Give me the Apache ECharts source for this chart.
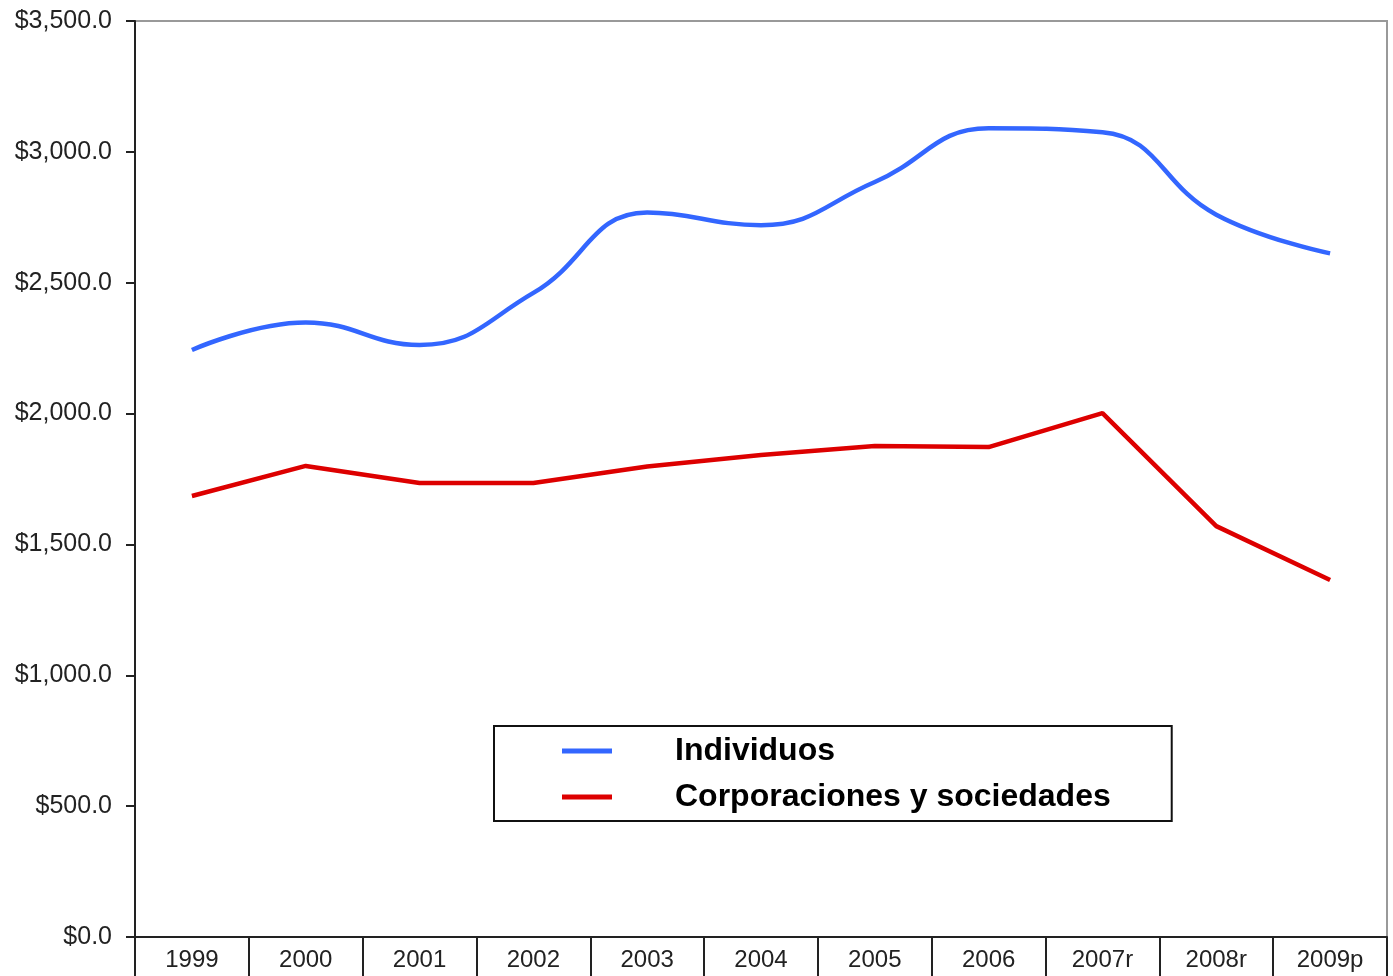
<!DOCTYPE html>
<html>
<head>
<meta charset="utf-8">
<script src="https://cdn.jsdelivr.net/npm/echarts@6/dist/echarts.min.js"></script>
<style>
html,body{margin:0;padding:0;background:#fff;}
#chart{width:1393px;height:976px;}
</style>
</head>
<body>
<div id="chart"></div>
<script>
var categories = ['1999','2000','2001','2002','2003','2004','2005','2006','2007r','2008r','2009p'];
var individuos = [2243, 2348, 2262, 2461, 2768, 2720, 2885, 3090, 3075, 2760, 2612];
var corporaciones = [1685, 1800, 1735, 1735, 1798, 1842, 1876, 1872, 2002, 1570, 1364];
var yTicks = {min: 0, max: 3500, interval: 500};
var seriesNames = ['Individuos', 'Corporaciones y sociedades'];

var chart = echarts.init(document.getElementById('chart'), null, {renderer: 'canvas'});
var font = '"Liberation Sans", Arial, sans-serif';
chart.setOption({
  animation: false,
  backgroundColor: '#ffffff',
  grid: {
    left: 135, right: 6, top: 21, bottom: 39,
    show: true, borderColor: '#999999', borderWidth: 2, backgroundColor: 'transparent'
  },
  legend: {
    orient: 'vertical',
    left: 494, top: 726,
    padding: [9, 61, 8, 68],
    itemGap: 14,
    itemWidth: 50, itemHeight: 5,
    borderColor: '#111', borderWidth: 2,
    backgroundColor: '#fff',
    icon: 'rect',
    textStyle: {fontFamily: font, fontSize: 32, fontWeight: 'bold', color: '#000', lineHeight: 32, padding: [0, 0, 0, 58]},
    data: seriesNames
  },
  xAxis: {
    type: 'category',
    data: categories,
    boundaryGap: true,
    axisLine: {lineStyle: {color: '#222', width: 2}},
    axisTick: {show: true, length: 42, lineStyle: {color: '#222', width: 2}},
    axisLabel: {fontFamily: font, fontSize: 24, color: '#222', margin: 11}
  },
  yAxis: {
    type: 'value',
    min: yTicks.min, max: yTicks.max, interval: yTicks.interval,
    axisLine: {show: true, lineStyle: {color: '#222', width: 2}},
    axisTick: {show: true, length: 9, lineStyle: {color: '#222', width: 2}},
    splitLine: {show: false},
    axisLabel: {
      fontFamily: font, fontSize: 25, color: '#222', margin: 23,
      formatter: function (v) {
        return '$' + v.toLocaleString('en-US', {minimumFractionDigits: 1, maximumFractionDigits: 1});
      }
    }
  },
  series: [
    {
      name: seriesNames[0], type: 'line', data: individuos,
      smooth: 0.45, symbol: 'none',
      lineStyle: {color: '#3366ff', width: 4.5},
      itemStyle: {color: '#3366ff'}
    },
    {
      name: seriesNames[1], type: 'line', data: corporaciones,
      smooth: false, symbol: 'none',
      lineStyle: {color: '#dd0000', width: 4.5},
      itemStyle: {color: '#dd0000'}
    }
  ]
});
</script>
</body>
</html>
